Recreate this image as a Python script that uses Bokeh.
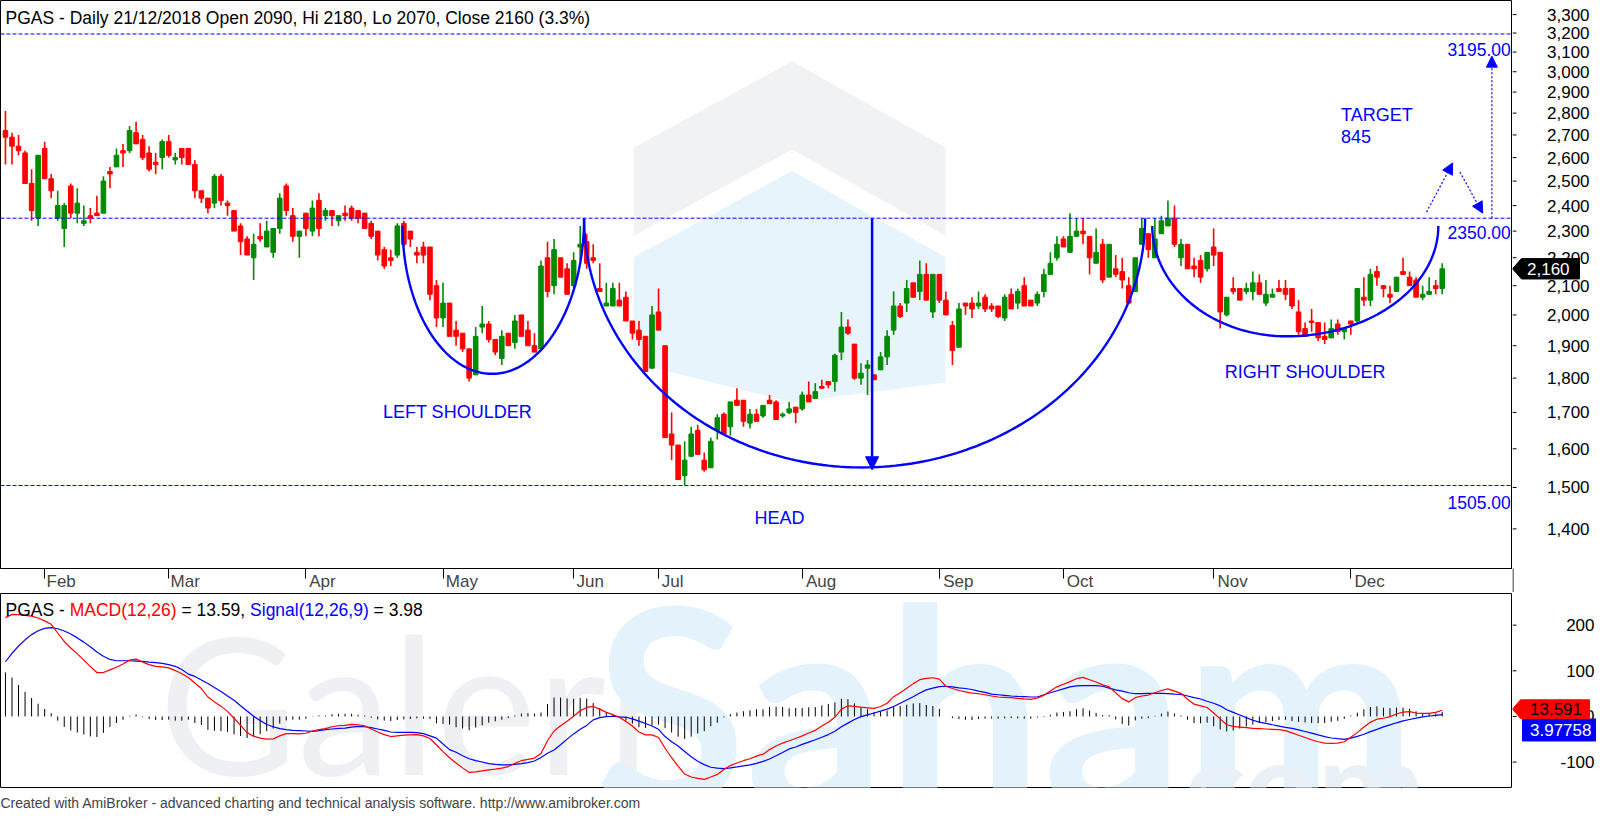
import numpy as np
from bokeh.plotting import figure
from bokeh.layouts import column, row
from bokeh.models import (Range1d, FixedTicker, Span, Arrow, NormalHead, Title)
from bokeh.core.properties import value
from bokeh.embed import file_html
from bokeh.resources import INLINE

# ---------------- data ----------------
opens = [2720,2690,2650,2620,2490,2350,2640,2510,2350,2310,2480,2370,2330,2360,2370,2370,2540,2560,2630,2630,
         2710,2680,2620,2580,2600,2670,2590,2640,2640,2570,2460,2430,2410,2520,2410,2380,2320,2270,2200,2280,
         2240,2220,2310,2480,2360,2280,2370,2300,2420,2360,2380,2340,2370,2390,2380,2370,2330,2300,2230,2200,
         2210,2330,2300,2220,2240,2240,2100,1990,2040,1950,1940,1890,1810,1960,1970,1920,1860,1940,1910,2000,
         1950,1900,1890,2200,2100,2200,2160,2100,2240,2260,2200,2090,2030,2030,2050,2060,1980,1950,1930,1830,
         2010,1900,1640,1610,1530,1580,1650,1570,1550,1650,1695,1660,1735,1735,1670,1695,1690,1735,1730,1690,
         1700,1715,1710,1750,1740,1775,1790,1790,1880,1960,1905,1800,1830,1810,1825,1865,1950,2030,2040,2110,
         2080,2140,2010,2140,2050,1965,1895,2040,2040,2030,2060,2030,2030,1990,2070,2040,2100,2050,2040,2080,
         2140,2200,2270,2220,2280,2300,2280,2180,2250,2130,2160,2150,2100,2080,2250,2290,2200,2290,2320,2350,
         2200,2250,2170,2190,2160,2240,2220,2000,2090,2090,2080,2080,2110,2040,2060,2090,2090,2090,2010,1955,
         1980,1975,1930,1925,1970,1945,1980,1980,2060,2050,2150,2100,2070,2080,2150,2130,2120,2060,2070,2100,
         2090]
highs = [2810,2710,2700,2630,2550,2610,2670,2530,2460,2410,2490,2470,2400,2390,2440,2520,2560,2640,2660,2740,
         2760,2700,2650,2620,2680,2700,2620,2640,2640,2590,2460,2430,2530,2530,2420,2380,2330,2280,2290,2330,
         2340,2310,2450,2490,2390,2300,2370,2420,2450,2390,2380,2360,2400,2400,2380,2370,2340,2300,2240,2230,
         2330,2340,2300,2240,2260,2240,2120,2110,2040,1980,1940,1890,1960,2030,1980,1920,1950,1940,2000,2000,
         1980,1940,2190,2260,2270,2200,2180,2220,2320,2290,2250,2180,2110,2110,2110,2080,1980,1980,1930,2030,
         2090,1900,1700,1610,1620,1660,1665,1590,1630,1695,1700,1730,1770,1735,1710,1710,1720,1750,1735,1700,
         1730,1715,1760,1790,1785,1795,1790,1875,2010,1985,1905,1845,1855,1810,1880,1950,2080,2040,2120,2110,
         2190,2180,2140,2140,2080,1980,2040,2040,2060,2080,2070,2040,2030,2070,2090,2090,2130,2050,2080,2160,
         2220,2280,2280,2370,2350,2350,2280,2310,2270,2250,2210,2200,2130,2200,2350,2290,2350,2360,2420,2400,
         2270,2250,2200,2210,2220,2310,2220,2060,2130,2090,2110,2150,2140,2120,2090,2120,2120,2090,2050,1975,
         2020,1975,1975,1985,1985,1955,1980,2090,2130,2160,2170,2100,2100,2130,2200,2150,2130,2100,2130,2120,
         2180]
lows = [2570,2570,2610,2490,2340,2320,2510,2430,2340,2240,2350,2330,2320,2330,2360,2370,2470,2560,2560,2620,
        2660,2590,2540,2530,2550,2600,2570,2570,2570,2430,2410,2370,2390,2400,2360,2300,2210,2210,2120,2260,
        2240,2200,2290,2360,2260,2200,2280,2280,2280,2340,2320,2320,2340,2340,2330,2310,2270,2190,2160,2170,
        2200,2240,2240,2180,2180,2050,1960,1960,1930,1900,1880,1790,1810,1940,1910,1870,1840,1900,1890,1930,
        1900,1880,1890,2060,2070,2130,2070,2090,2190,2160,2180,2080,2030,2030,2030,1980,1920,1900,1820,1830,
        1950,1630,1570,1520,1505,1580,1585,1540,1550,1625,1640,1635,1720,1660,1655,1675,1685,1725,1680,1685,
        1695,1670,1705,1730,1740,1770,1770,1760,1855,1935,1795,1780,1750,1795,1825,1840,1935,1990,2010,2060,
        2050,2050,1990,2040,2000,1840,1895,2000,1990,2020,2010,2010,1990,1980,2020,2020,2030,2030,2030,2060,
        2140,2190,2240,2220,2280,2250,2140,2180,2110,2130,2130,2090,2040,2080,2250,2200,2200,2290,2320,2240,
        2170,2160,2130,2110,2150,2170,1955,1995,2070,2050,2070,2050,2070,2030,2060,2080,2050,2020,1930,1930,
        1945,1915,1905,1925,1935,1920,1935,1970,2030,2030,2100,2060,2040,2080,2140,2100,2060,2050,2070,2070,
        2070]
closes = [2690,2650,2630,2490,2380,2610,2510,2460,2400,2400,2370,2410,2340,2350,2360,2500,2530,2610,2620,2720,
          2660,2600,2550,2570,2670,2610,2600,2600,2570,2460,2430,2390,2520,2420,2400,2300,2260,2210,2250,2270,
          2300,2310,2430,2380,2280,2300,2310,2390,2310,2380,2360,2360,2360,2350,2350,2310,2280,2210,2170,2190,
          2320,2250,2270,2210,2210,2070,1990,2040,1930,1930,1890,1800,1930,1970,1920,1880,1930,1900,1980,1930,
          1900,1880,2170,2080,2230,2130,2070,2190,2250,2180,2190,2080,2040,2090,2030,1980,1940,1920,1820,2000,
          1950,1630,1610,1520,1570,1640,1585,1545,1620,1685,1640,1730,1720,1675,1695,1675,1720,1725,1680,1695,
          1710,1700,1750,1730,1760,1770,1780,1870,1960,1940,1800,1815,1840,1795,1865,1930,2030,1995,2090,2060,
          2140,2050,2140,2050,2000,1885,2020,2030,2020,2040,2020,2020,1995,2060,2020,2080,2030,2030,2070,2140,
          2180,2250,2240,2280,2300,2290,2200,2220,2120,2250,2140,2120,2040,2200,2310,2230,2270,2340,2350,2250,
          2250,2160,2160,2130,2220,2210,2010,2060,2080,2050,2090,2110,2070,2070,2070,2080,2070,2030,1945,1930,
          1975,1925,1920,1955,1945,1955,1970,2090,2050,2140,2130,2090,2060,2130,2140,2100,2060,2070,2080,2090,
          2160]

macd_line = [216.4,223.6,222.9,221.4,219.6,215.7,209.3,201.8,182.8,164.2,149.9,137.0,123.4,109.1,96.2,96.2,102.0,107.7,114.8,123.4,
             125.6,119.1,113.4,109.8,108.4,106.3,100.5,93.4,85.5,73.4,61.2,42.6,31.9,22.6,11.1,-3.9,-19.6,-35.4,-43.2,-47.5,
             -49.7,-49.0,-42.5,-37.5,-37.5,-38.2,-36.8,-31.8,-28.9,-26.8,-22.5,-20.4,-19.6,-17.5,-18.2,-20.4,-27.5,-34.0,-39.7,-44.0,
             -42.5,-41.1,-40.4,-39.7,-42.5,-48.2,-62.5,-76.9,-90.4,-101.9,-112.6,-122.6,-121.2,-119.1,-116.9,-115.5,-113.3,-109.8,-102.6,-96.9,
             -94.0,-91.2,-81.1,-53.2,-31.8,-20.4,-10.3,0.4,12.5,19.7,21.9,16.1,9.0,4.0,-1.8,-11.1,-21.0,-34.0,-40.4,-40.4,
             -46.1,-69.7,-90.4,-109.0,-126.2,-132.6,-135.5,-137.7,-132.6,-126.9,-116.2,-107.6,-101.9,-96.9,-92.6,-86.9,-82.6,-72.6,-64.7,-58.3,
             -53.3,-48.2,-42.5,-36.1,-30.4,-21.1,-12.5,-1.8,16.1,23.3,21.9,20.4,19.0,17.6,21.9,29.0,43.3,51.9,61.9,71.9,
             80.5,83.4,84.8,81.9,66.2,61.2,56.9,54.0,51.2,49.8,47.6,44.8,42.6,41.9,41.2,39.7,38.3,37.6,40.4,46.2,
             55.5,64.8,70.5,76.2,82.7,85.5,80.5,75.5,69.1,64.8,51.9,39.0,31.9,41.2,44.8,46.9,51.9,56.9,60.5,55.5,
             50.5,37.6,26.9,23.3,19.7,7.5,-5.3,-18.2,-21.8,-23.2,-24.6,-26.1,-26.8,-27.5,-28.2,-28.9,-31.1,-36.1,-41.1,-46.1,
             -51.1,-55.4,-58.3,-59.0,-58.3,-55.4,-45.4,-35.4,-23.2,-12.5,-6.0,-3.9,-0.3,5.4,9.7,10.4,7.5,6.8,6.8,9.0,
             13.59]
signal_line = [119.8,138.4,154.2,167.8,179.2,187.8,192.8,194.6,192.1,187.1,180.7,172.1,162.8,152.8,141.3,132.0,124.9,122.0,122.0,122.0,
               121.3,120.6,119.1,117.7,116.3,113.4,109.8,102.7,92.7,87.7,79.8,72.0,63.3,54.8,44.8,35.5,23.3,11.8,0.4,-8.9,
               -17.5,-22.5,-26.8,-28.9,-30.4,-31.1,-31.8,-32.5,-31.1,-28.9,-27.5,-26.1,-25.4,-23.2,-21.8,-22.5,-24.6,-27.5,-30.4,-34.0,
               -34.7,-34.7,-34.7,-35.4,-37.5,-42.5,-47.5,-60.4,-72.6,-78.3,-86.2,-92.6,-96.9,-99.8,-103.3,-104.8,-106.2,-106.2,-104.8,-103.3,
               -101.2,-97.6,-89.7,-80.4,-73.3,-61.8,-49.7,-38.2,-28.2,-19.6,-7.5,-2.5,-0.3,0.4,-1.0,-1.8,-5.3,-10.3,-15.3,-21.0,
               -28.2,-44.0,-55.4,-64.7,-76.9,-88.3,-98.3,-105.5,-111.2,-113.3,-114.1,-112.6,-110.5,-108.3,-106.2,-102.6,-98.3,-93.3,-86.2,-79.0,
               -71.1,-66.8,-61.1,-56.1,-51.1,-45.4,-39.7,-32.5,-22.5,-14.6,-6.8,-0.3,3.3,7.5,11.8,16.1,21.9,29.0,36.2,43.3,
               51.2,58.3,61.9,65.5,66.2,64.8,62.6,61.2,59.0,55.5,52.6,49.0,47.6,46.2,44.8,44.0,43.3,42.6,42.6,47.6,
               51.9,56.2,60.5,64.8,66.9,67.6,67.6,67.6,66.2,61.9,58.3,55.5,51.9,49.8,49.8,50.5,50.5,50.5,49.8,49.0,
               48.3,44.8,41.2,38.3,33.3,29.0,23.3,14.7,9.0,3.3,-2.5,-8.2,-12.5,-15.3,-18.2,-21.0,-23.9,-26.1,-29.3,-32.9,
               -36.6,-40.4,-44.0,-47.2,-48.7,-50.1,-47.4,-43.7,-38.9,-33.2,-28.2,-22.9,-18.5,-13.9,-9.6,-6.6,-3.8,-0.8,1.0,2.5,
               3.98]

month_names = ["Feb", "Mar", "Apr", "May", "Jun", "Jul", "Aug", "Sep", "Oct", "Nov", "Dec"]
month_first_bar = [6, 25, 46, 67, 87, 100, 122, 143, 162, 185, 206]
price_ticks = list(range(1400, 3400, 100))
macd_ticks = [-100, 0, 100, 200]
levels = [3195, 2350, 1505]
level_labels = ["3195.00", "2350.00", "1505.00"]
last_close = 2160
macd_last, signal_last = 13.591, 3.97758

left_shoulder = [(60.8, 2320), (74.5, 1813), (88.6, 2350)]
head = [(88.6, 2350), (131.1, 1551), (174.5, 2350)]
right_shoulder = [(175.6, 2320), (196.2, 1930), (219.4, 2320)]

# ---------------- styling / geometry ----------------
FONT = "Liberation Sans"
BLUE = "#0000ff"
GREEN = "#008a00"
RED = "#ff0000"
FW = 1512          # price / MACD frame width
AXW = 84           # right axis strip width
FH1, FH2 = 568, 194
STRIP = 24         # date-axis strip under the price pane
XR = (-0.76, 230.76)
YR1 = (1310.5, 3378.4)
YR2 = (-155.6, 269.3)
PX = FW / (XR[1] - XR[0])
PPL = FH1 / np.log(YR1[1] / YR1[0])        # pixels per unit of ln(price)
PPM = FH2 / (YR2[1] - YR2[0])               # pixels per MACD unit

def bar_at(px):       # reference pixel column -> bar index
    return px / 6.6 - 0.76

def price_at(py):     # reference pixel row -> price
    return YR1[1] * np.exp(-py / 612.2)

def macd_at(py):      # reference pixel row -> MACD value
    return 200 - (py - 634.3) / 0.466

# month labels start just right of their tick: pad centred labels with no-break spaces
ARIAL = {"F": .611, "e": .556, "b": .556, "M": .833, "a": .556, "r": .333, "A": .667, "p": .556,
         "y": .5, "J": .5, "u": .556, "n": .556, "l": .222, "g": .556, "S": .667, "O": .778,
         "c": .5, "t": .278, "N": .722, "o": .556, "v": .5, "D": .722}
def padded(name, size=17.0, gap=6.0):
    w = sum(ARIAL[ch] for ch in name) * size
    n = int(round((w + gap) / (0.278 * size)))
    return "\u00a0" * n + name

N = len(closes)
idx = np.arange(N).astype(float)
o = np.array(opens, dtype=float); h = np.array(highs, dtype=float)
l = np.array(lows, dtype=float); c = np.array(closes, dtype=float)
colors = [GREEN if cc >= oo else RED for oo, cc in zip(o, c)]
macd = np.array(macd_line); signal = np.array(signal_line)
hist = macd - signal

def base_fig(xr, yr, fw, fh, **kw):
    p = figure(x_range=xr, y_range=yr, frame_width=fw, frame_height=fh,
               output_backend="svg", toolbar_location=None,
               min_border_left=0, min_border_right=0, min_border_top=0, min_border_bottom=0, **kw)
    p.grid.visible = False
    return p

def txt(p, x, y, s, color=BLUE, size="18px", align="left", baseline="alphabetic"):
    p.text(x=[x], y=[y], text=[s], text_font=value(FONT), text_font_size=value(size),
           text_color=color, text_align=value(align), text_baseline=value(baseline))

def watermark(p, base, dot_base=None):
    p.text(x=[bar_at(160)], y=[base], text=["Galeri"], text_font=value("Lato"), text_font_size=value("190px"),
           text_color="#eef0f3", text_baseline=value("alphabetic"))
    p.text(x=[bar_at(600)], y=[base], text=["Saham"], text_font=value("Lato"), text_font_size=value("278px"),
           text_font_style=value("bold"), text_color="#e3f2fb", text_baseline=value("alphabetic"))
    if dot_base is not None:
        p.text(x=[bar_at(1165)], y=[dot_base], text=[".com"], text_font=value("Lato"),
               text_font_size=value("128px"), text_font_style=value("bold"), text_color="#e9f1f6",
               text_baseline=value("alphabetic"))

# ---------------- price pane ----------------
p1 = base_fig(Range1d(*XR), Range1d(*YR1), FW, FH1, y_axis_type="log", y_axis_location=None)
p1.min_border_bottom = STRIP
p1.outline_line_color = "black"

logo_gray = [(640, 150), (800, 62), (955, 150), (955, 240), (800, 152), (640, 240)]
logo_blue = [(640, 262), (800, 174), (955, 262), (955, 390), (800, 410), (640, 370)]
for poly, col in ((logo_gray, "#f1f2f4"), (logo_blue, "#e7f4fb")):
    p1.patch([bar_at(x) for x, _ in poly], [price_at(y) for _, y in poly],
             fill_color=col, line_color=None)
watermark(p1, price_at(712))

p1.xaxis.ticker = FixedTicker(ticks=month_first_bar)
p1.xaxis.major_label_overrides = {m: padded(n) for m, n in zip(month_first_bar, month_names)}
p1.xaxis.major_label_text_font = FONT
p1.xaxis.major_label_text_font_size = "17px"
p1.xaxis.major_label_standoff = -7
p1.xaxis.major_tick_out = 10
p1.xaxis.major_tick_in = 0
p1.xaxis.minor_tick_out = 0
p1.xaxis.minor_tick_in = 0
p1.xaxis.axis_line_color = "black"

for lv in levels:
    p1.add_layout(Span(location=lv, dimension="width", line_color=BLUE, line_width=1, line_dash="4 2"))

p1.segment(x0=idx, y0=h, x1=idx, y1=l, line_color=colors, line_width=1.6)
p1.vbar(x=idx, top=np.maximum(o, c), bottom=np.minimum(o, c), width=0.7,
        fill_color=colors, line_color=colors, line_width=1)

def bowl(a, b, cc, n=80):
    (x1, p1_), (xb, pb), (x2, p2_) = a, b, cc
    t = np.linspace(0, np.pi / 2, n)
    l1, lb, l2 = np.log(p1_), np.log(pb), np.log(p2_)
    xl = xb - (xb - x1) * np.cos(t); yl = l1 - (l1 - lb) * np.sin(t)
    xr = xb + (x2 - xb) * np.sin(t); yr = l2 - (l2 - lb) * np.cos(t)
    return np.concatenate([xl, xr]), np.exp(np.concatenate([yl, yr]))

for shape in (left_shoulder, head, right_shoulder):
    bx, by = bowl(*shape)
    p1.line(bx, by, line_color=BLUE, line_width=2.4)

p1.add_layout(Arrow(end=NormalHead(size=13, fill_color=BLUE, line_color=BLUE),
                    x_start=132.7, y_start=2350, x_end=132.7, y_end=1545,
                    line_color=BLUE, line_width=2.5))
for (xs, ys, xe, ye) in [(227.6, 2350, 227.6, 3079), (217.6, 2374, 221.6, 2577), (222.7, 2538, 226.2, 2370)]:
    p1.add_layout(Arrow(end=NormalHead(size=11, fill_color=BLUE, line_color=BLUE),
                        x_start=xs, y_start=ys, x_end=xe, y_end=ye,
                        line_color=BLUE, line_width=1.2, line_dash="2 2"))

txt(p1, 0, 3280, "PGAS - Daily 21/12/2018 Open 2090, Hi 2180, Lo 2070, Close 2160 (3.3%)", color="black", size="17.5px")
txt(p1, 57.8, 1700, "LEFT SHOULDER")
txt(p1, 114.7, 1425, "HEAD")
txt(p1, 186.7, 1820, "RIGHT SHOULDER")
txt(p1, 204.5, 2789, "TARGET")
txt(p1, 204.5, 2692, "845")
for lab, yb in zip(level_labels, [3115, 2293, 1464]):
    txt(p1, 230.5, yb, lab, size="17.5px", align="right")

# ---------------- price axis strip (includes the date strip height) ----------------
a1_bottom = YR1[0] * np.exp(-STRIP / PPL)
a1 = base_fig(Range1d(0, AXW), Range1d(a1_bottom, YR1[1]), AXW, FH1 + STRIP, y_axis_type="log",
              x_axis_location=None, y_axis_location=None)
a1.outline_line_color = None
a1.segment(x0=[0.5], y0=[a1_bottom], x1=[0.5], y1=[YR1[0]], line_color="black", line_width=1)
a1.segment(x0=[0] * len(price_ticks), y0=price_ticks, x1=[4] * len(price_ticks), y1=price_ticks,
           line_color="black", line_width=1)
a1.text(x=[34.5] * len(price_ticks), y=price_ticks, text=[f"{t:,}" for t in price_ticks],
        text_font=value(FONT), text_font_size=value("17px"), text_color="black",
        text_baseline=value("middle"))
k = np.exp(10.2 / PPL)
a1.patch([0, 9, 67, 67, 9], [last_close, last_close * k, last_close * k, last_close / k, last_close / k],
         fill_color="black", line_color="black")
a1.text(x=[14.5], y=[last_close], text=[f"{last_close:,}"], text_font=value(FONT),
        text_font_size=value("17px"), text_color="white", text_baseline=value("middle"))

# ---------------- MACD pane ----------------
p2 = base_fig(p1.x_range, Range1d(*YR2), FW, FH2, x_axis_location=None, y_axis_location=None)
p2.outline_line_color = "black"
watermark(p2, macd_at(712), macd_at(795))

p2.segment(x0=idx, y0=np.zeros(N), x1=idx, y1=hist, line_color="black", line_width=1)
p2.line(idx, signal, line_color=BLUE, line_width=1.2)
p2.line(idx, macd, line_color=RED, line_width=1.2)

EM = 17.5 / PX
segs = [("PGAS -", 0.0, "black"), ("MACD(12,26)", 3.668, RED), ("= 13.59,", 10.058, "black"),
        ("Signal(12,26,9)", 13.978, BLUE), ("= 3.98", 21.037, "black")]
for s, em, col in segs:
    txt(p2, em * EM, 234, s, color=col, size="17.5px")

p2.add_layout(Title(text="Created with AmiBroker - advanced charting and technical analysis software. http://www.amibroker.com",
                    text_font=FONT, text_font_size="14px", text_font_style="normal", align="left"), "below")

# ---------------- MACD axis strip ----------------
a2 = base_fig(Range1d(0, AXW), p2.y_range, AXW, FH2, x_axis_location=None, y_axis_location=None)
a2.outline_line_color = None
a2.segment(x0=[0] * len(macd_ticks), y0=macd_ticks, x1=[4] * len(macd_ticks), y1=macd_ticks,
           line_color="black", line_width=1)
a2.text(x=[82] * len(macd_ticks), y=macd_ticks, text=[str(t) for t in macd_ticks],
        text_font=value(FONT), text_font_size=value("17px"), text_color="black",
        text_align=value("right"), text_baseline=value("middle"))
hb = 10.0 / PPM
sig_c = macd_at(741.3)
a2.patch([10, 84, 84, 10], [sig_c + 1.1 * hb, sig_c + 1.1 * hb, sig_c - 1.1 * hb, sig_c - 1.1 * hb],
         fill_color=BLUE, line_color=BLUE)
a2.text(x=[17.5], y=[sig_c], text=[f"{signal_last:.5f}"], text_font=value(FONT),
        text_font_size=value("17px"), text_color="white", text_baseline=value("middle"))
mac_c = macd_at(720)
a2.patch([0, 8, 77, 77, 8], [mac_c, mac_c + hb * 0.93, mac_c + hb * 0.93, mac_c - hb * 0.93, mac_c - hb * 0.93],
         fill_color=RED, line_color=RED)
a2.text(x=[17.5], y=[mac_c], text=[f"{macd_last:.3f}"], text_font=value(FONT),
        text_font_size=value("17px"), text_color="black", text_baseline=value("middle"))

layout = column(row(p1, a1, spacing=0), row(p2, a2, spacing=0), spacing=0)
open("out.html", "w").write(file_html(layout, INLINE))
